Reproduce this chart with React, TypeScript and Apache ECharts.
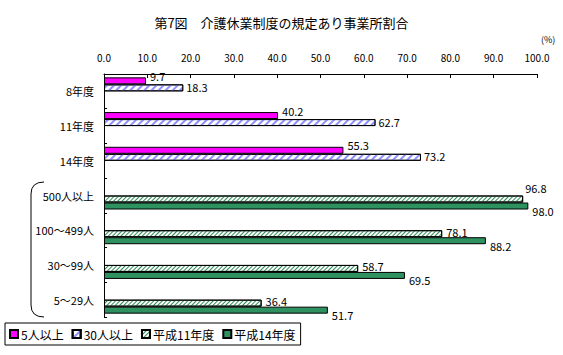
import React, { useEffect, useRef } from "react";
import * as echarts from "echarts";

const categories = ["8年度", "11年度", "14年度", "500人以上", "100～499人", "30～99人", "5～29人"];
const seriesNames = ["5人以上", "30人以上", "平成11年度", "平成14年度"];
const s5 = [9.7, 40.2, 55.3, null, null, null, null];
const s30 = [18.3, 62.7, 73.2, null, null, null, null];
const h11 = [null, null, null, 96.8, 78.1, 58.7, 36.4];
const h14 = [null, null, null, 98.0, 88.2, 69.5, 51.7];
const xTicks = [0, 10, 20, 30, 40, 50, 60, 70, 80, 90, 100];

echarts.graphic.registerShape(
  "brace",
  echarts.graphic.extendPath("M13 0 Q0 0 0 12 L0 123 Q0 135 13 135", {}) as any
);

const FONT = "'Noto Sans CJK JP', 'Noto Sans', sans-serif";

export default function App() {
  const ref = useRef<HTMLDivElement>(null);
  useEffect(() => {
    if (!ref.current) return;
    const chart = echarts.init(ref.current, undefined, { renderer: "svg" });
    const labelBase = {
      show: true,
      position: "right" as const,
      color: "#000",
      fontSize: 11,
      fontFamily: FONT,
      formatter: (p: any) => (p.value == null ? "" : Number(p.value).toFixed(1)),
    };
    const border = { borderColor: "#000", borderWidth: 1 };
    const decalBlue = {
      symbol: "rect",
      symbolSize: 1,
      dashArrayX: [1, 0],
      dashArrayY: [2, 3],
      rotation: -Math.PI / 4,
      color: "#8f8fff",
    };
    const decalGreen = {
      symbol: "rect",
      symbolSize: 1,
      dashArrayX: [1, 0],
      dashArrayY: [1, 2],
      rotation: -Math.PI / 4,
      color: "#2e8b57",
    };
    chart.setOption({
      animation: false,
      backgroundColor: "#fff",
      textStyle: { fontFamily: FONT, color: "#000" },
      title: {
        text: "第7図　介護休業制度の規定あり事業所割合",
        left: "center",
        top: 11,
        textStyle: { fontSize: 13, fontWeight: "normal", color: "#000", fontFamily: FONT },
      },
      graphic: [
        { type: "text", left: 541, top: 35, style: { text: "(%)", fontSize: 9, fill: "#000", fontFamily: FONT } },
        {
          type: "brace",
          x: 31,
          y: 182,
          style: { fill: "none", stroke: "#000", lineWidth: 1 },
        },
      ],
      legend: {
        left: 5,
        top: 323,
        orient: "horizontal",
        icon: "rect",
        itemWidth: 8,
        itemHeight: 8,
        itemGap: 8,
        padding: [5, 5, 5, 4],
        borderColor: "#000",
        borderWidth: 1,
        backgroundColor: "#fff",
        textStyle: { fontSize: 12, color: "#000", fontFamily: FONT, padding: [0, 0, 0, -2] },
        data: [
          { name: seriesNames[0] },
          { name: seriesNames[1], itemStyle: { decal: decalBlue } },
          { name: seriesNames[2], itemStyle: { decal: decalGreen } },
          { name: seriesNames[3] },
        ],
      },
      grid: { left: 104, right: 26, top: 74, bottom: 38 },
      xAxis: {
        type: "value",
        position: "top",
        min: 0,
        max: 100,
        interval: 10,
        splitLine: { show: false },
        axisLine: { show: true, lineStyle: { color: "#000" } },
        axisTick: { show: true, inside: true, length: 4, lineStyle: { color: "#000" } },
        axisLabel: {
          margin: 12,
          fontSize: 10,
          color: "#000",
          fontFamily: FONT,
          formatter: (v: number) => (xTicks.includes(v) ? v.toFixed(1) : ""),
        },
      },
      yAxis: {
        type: "category",
        data: categories,
        inverse: true,
        axisLine: { show: true, lineStyle: { color: "#000" } },
        axisTick: { show: true, inside: true, length: 3, lineStyle: { color: "#000" } },
        axisLabel: { margin: 10, fontSize: 11, color: "#000", fontFamily: FONT },
      },
      series: [
        {
          name: seriesNames[0],
          type: "bar",
          data: s5,
          barWidth: 7,
          barGap: "0%",
          barCategoryGap: "19%",
          itemStyle: { color: "#ff00ff", ...border },
          label: { ...labelBase, distance: 4, offset: [0, -5] },
        },
        {
          name: seriesNames[1],
          type: "bar",
          data: s30,
          barWidth: 7,
          barGap: "0%",
          itemStyle: { color: "#ffffff", ...border, decal: decalBlue },
          label: { ...labelBase, distance: 3, offset: [0, -1] },
        },
        {
          name: seriesNames[2],
          type: "bar",
          data: h11.map((v, i) => (i === 3 ? { value: v, label: { offset: [-2, -11] } } : v)),
          barWidth: 7,
          barGap: "0%",
          itemStyle: { color: "#ffffff", ...border, decal: decalGreen },
          label: { ...labelBase, distance: 4, offset: [0, -2] },
        },
        {
          name: seriesNames[3],
          type: "bar",
          data: h14,
          barWidth: 7,
          barGap: "0%",
          itemStyle: { color: "#2e9160", ...border },
          label: { ...labelBase, distance: 4, offset: [0, 5] },
        },
      ],
    });
    return () => chart.dispose();
  }, []);
  return <div ref={ref} style={{ position: "fixed", left: 0, top: 0, width: 563, height: 355 }} />;
}
